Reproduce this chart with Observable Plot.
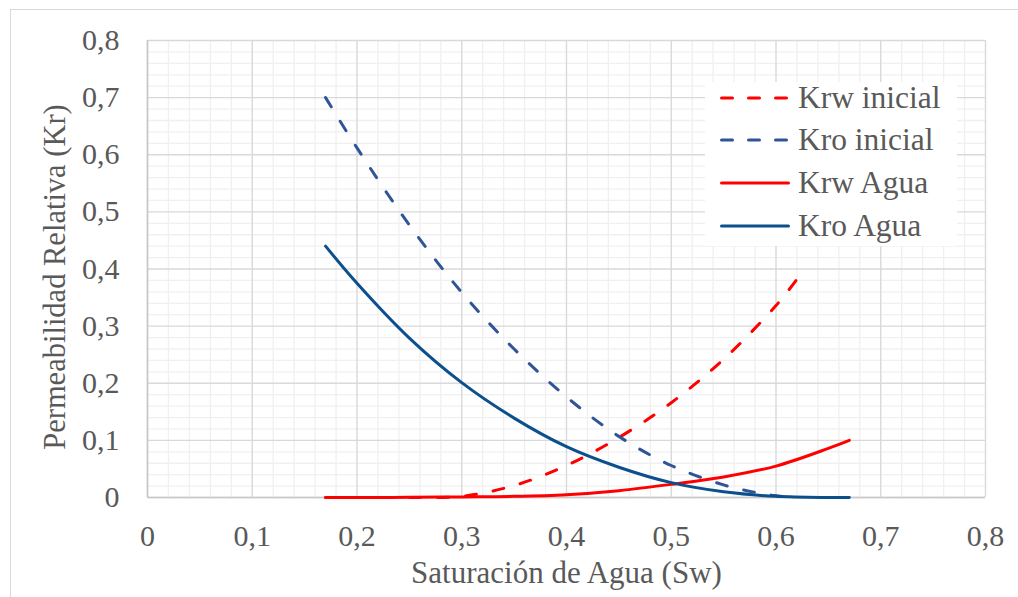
<!DOCTYPE html>
<html>
<head>
<meta charset="utf-8">
<style>
  html, body { margin: 0; padding: 0; background: #ffffff; overflow: hidden; font-family: "Liberation Serif", "Times New Roman", "DejaVu Serif", serif; }
  #wrap { position: relative; width: 1018px; height: 597px; font-family: "Liberation Serif", "Times New Roman", "DejaVu Serif", serif; }
  #wrap svg.plot { position: absolute; left: 0; top: 0; }
  #frame { position: absolute; left: 10px; top: 9px; width: 1030px; height: 620px; border: 1.5px solid #d9d9d9; box-sizing: border-box; pointer-events: none; }
  #legend { position: absolute; left: 705px; top: 82px; width: 252px; height: 164px; background: #ffffff; }
  #legend .row { position: absolute; left: 15px; height: 36px; display: flex; align-items: center; transform: translateY(-50%); }
  #legend .row span { margin-left: 8px; font-size: 31.5px; color: #595959; line-height: 36px; white-space: nowrap; }
</style>
<script src="https://cdn.jsdelivr.net/npm/d3@7"></script>
<script src="https://cdn.jsdelivr.net/npm/@observablehq/plot@0.6"></script>
</head>
<body>
<div id="wrap">
  <div id="chart"></div>
  <div id="legend"></div>
  <div id="frame"></div>
</div>
<script>
// ---- Data ----
const xTicks = [0, 0.1, 0.2, 0.3, 0.4, 0.5, 0.6, 0.7, 0.8];
const yTicks = [0, 0.1, 0.2, 0.3, 0.4, 0.5, 0.6, 0.7, 0.8];
const xTitle = "Saturación de Agua (Sw)";
const yTitle = "Permeabilidad Relativa (Kr)";

const seriesNames = ["Krw inicial", "Kro inicial", "Krw Agua", "Kro Agua"];

const swKrwInicial = [0.17, 0.2, 0.25, 0.3, 0.35, 0.4, 0.45, 0.5, 0.55, 0.6, 0.62];
const krwInicial   = [0, 0, 0, 0.002, 0.021, 0.056, 0.105, 0.166, 0.242, 0.336, 0.382];

const swKroInicial = [0.17, 0.2, 0.25, 0.3, 0.35, 0.4, 0.45, 0.5, 0.55, 0.58, 0.6, 0.62];
const kroInicial   = [0.70, 0.612, 0.477, 0.359, 0.26, 0.176, 0.107, 0.056, 0.022, 0.009, 0.003, 0];

const swKrwAgua = [0.17, 0.2, 0.25, 0.3, 0.35, 0.4, 0.45, 0.5, 0.55, 0.6, 0.65, 0.67];
const krwAgua   = [0, 0, 0.0003, 0.001, 0.002, 0.005, 0.012, 0.023, 0.036, 0.055, 0.086, 0.1];

const swKroAgua = [0.17, 0.2, 0.25, 0.3, 0.35, 0.4, 0.45, 0.5, 0.55, 0.6, 0.65, 0.67];
const kroAgua   = [0.44, 0.375, 0.279, 0.201, 0.139, 0.089, 0.053, 0.026, 0.01, 0.002, 0, 0];

// ---- Styles ----
const colors = ["#ff0000", "#2f5597", "#ff0000", "#0b4f8c"];
const dashes = ["11,17", "11,17", null, null];
const fontFamily = '"Liberation Serif", "Times New Roman", "DejaVu Serif", serif';

// warm up the serif fonts before drawing
(function () {
  const c = document.createElement("canvas").getContext("2d");
  ["Liberation Serif", "Times New Roman", "DejaVu Serif"].forEach(f => {
    c.font = `72px "${f}", monospace`;
    c.measureText("Permeabilidad Relativa 0,123 KrwAgua");
  });
})();

const toRows = (xs, ys) => xs.map((x, i) => ({x, y: ys[i]}));
const rows = [
  toRows(swKrwInicial, krwInicial),
  toRows(swKroInicial, kroInicial),
  toRows(swKrwAgua, krwAgua),
  toRows(swKroAgua, kroAgua)
];

const fmt = d => String(d).replace(".", ",");
const minor = d3.range(0, 41).map(i => i * 0.02).filter(v => Math.round(v * 50) % 5 !== 0);

function render() {
  const lineMarks = rows.map((data, i) => Plot.line(data, {
    x: "x", y: "y",
    stroke: colors[i],
    strokeWidth: 3,
    strokeDasharray: dashes[i] || undefined,
    strokeLinecap: "round",
    strokeLinejoin: "round",
    curve: "catmull-rom"
  }));

  const chart = Plot.plot({
    width: 1018,
    height: 597,
    marginLeft: 147,
    marginRight: 33,
    marginTop: 40,
    marginBottom: 100,
    style: { background: "transparent", color: "#595959", fontSize: "30px", fontFamily },
    x: { domain: [0, 0.8] },
    y: { domain: [0, 0.8] },
    marks: [
      Plot.gridX(minor, { stroke: "#f0f0f0", strokeOpacity: 1, strokeWidth: 1.3 }),
      Plot.gridY(minor, { stroke: "#f0f0f0", strokeOpacity: 1, strokeWidth: 1.3 }),
      Plot.gridX(xTicks, { stroke: "#d9d9d9", strokeOpacity: 1, strokeWidth: 1.4 }),
      Plot.gridY(yTicks, { stroke: "#d9d9d9", strokeOpacity: 1, strokeWidth: 1.4 }),
      Plot.ruleY([0], { stroke: "#c8c8c8", strokeWidth: 1.6 }),
      Plot.ruleX([0], { stroke: "#c8c8c8", strokeWidth: 1.6 }),
      Plot.axisX(xTicks, { tickSize: 0, tickPadding: 27, tickFormat: fmt, label: null }),
      Plot.axisY(yTicks, { tickSize: 0, tickPadding: 28, tickFormat: fmt, label: null }),
      ...lineMarks,
      Plot.text([xTitle], { text: d => d, frameAnchor: "bottom", textAnchor: "middle", dy: 76, lineAnchor: "middle", fill: "#595959", fontSize: 31 }),
      Plot.text([yTitle], { text: d => d, frameAnchor: "left", textAnchor: "middle", rotate: -90, dx: -92, dy: 8, lineAnchor: "middle", fill: "#595959", fontSize: 30.5 })
    ]
  });
  chart.classList.add("plot");
  document.getElementById("chart").replaceChildren(chart);

  // ---- Legend (HTML) ----
  const legend = document.getElementById("legend");
  legend.replaceChildren();
  seriesNames.forEach((name, i) => {
    const row = document.createElement("div");
    row.className = "row";
    row.style.top = (15.5 + i * 42.8) + "px";
    const ns = "http://www.w3.org/2000/svg";
    const s = document.createElementNS(ns, "svg");
    s.setAttribute("width", 70);
    s.setAttribute("height", 10);
    const ln = document.createElementNS(ns, "line");
    ln.setAttribute("x1", 1.5); ln.setAttribute("x2", 68.5);
    ln.setAttribute("y1", 5); ln.setAttribute("y2", 5);
    ln.setAttribute("stroke", colors[i]);
    ln.setAttribute("stroke-width", 3);
    ln.setAttribute("stroke-linecap", "round");
    if (dashes[i]) ln.setAttribute("stroke-dasharray", "11,16");
    s.appendChild(ln);
    const t = document.createElement("span");
    t.textContent = name;
    row.appendChild(s);
    row.appendChild(t);
    legend.appendChild(row);
  });
}
render();
setTimeout(render, 300);
</script>
</body>
</html>
